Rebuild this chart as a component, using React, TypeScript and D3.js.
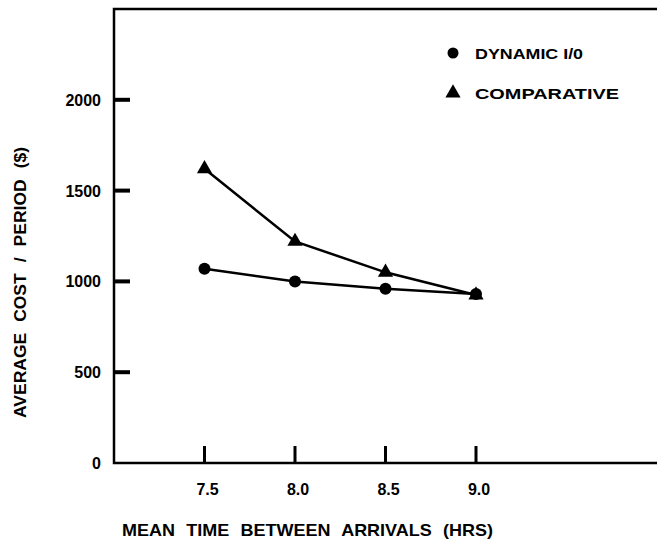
import React, { useEffect, useRef } from "react";
import * as d3 from "d3";

// values
const arrivals = [7.5, 8.0, 8.5, 9.0];
const dynamicIO = [1070, 1000, 960, 930];
const comparative = [1620, 1220, 1050, 925];
const yTicks = [0, 500, 1000, 1500, 2000];
const xTicks = [7.5, 8.0, 8.5, 9.0];
const legendLabels = ["DYNAMIC I/0", "COMPARATIVE"];

const App = () => {
  const svgRef = useRef<SVGSVGElement>(null);

  useEffect(() => {
    const w = 657;
    const h = 542;
    const left = 114;
    const top = 9;
    const bottom = 463;
    const right = 657;
    const font = "'Liberation Sans', Arial, sans-serif";

    const svg = d3.select(svgRef.current).attr("width", w).attr("height", h);
    svg.selectAll("*").remove();
    svg.append("rect").attr("width", w).attr("height", h).attr("fill", "white");

    const x = d3.scaleLinear().domain([7, 10]).range([left, right]);
    const y = d3.scaleLinear().domain([0, 2500]).range([bottom, top]);

    // y ticks point inward, x ticks point upward (drawn as small filled bars)
    svg.selectAll("rect.yt")
      .data(yTicks.filter(d => d > 0))
      .join("rect")
      .attr("class", "yt")
      .attr("x", left)
      .attr("y", d => y(d) - 2)
      .attr("width", 16)
      .attr("height", 4)
      .attr("fill", "#000");

    svg.selectAll("rect.xt")
      .data(xTicks)
      .join("rect")
      .attr("class", "xt")
      .attr("x", d => x(d) - 1.5)
      .attr("y", bottom - 17)
      .attr("width", 3)
      .attr("height", 17)
      .attr("fill", "#000");

    // frame: left axis, bottom axis, top border
    svg.append("path")
      .attr("d", `M${right},${top}H${left}V${bottom}H${right}`)
      .attr("fill", "none")
      .attr("stroke", "#000")
      .attr("stroke-width", 2.5);

    svg.selectAll("text.yl")
      .data(yTicks)
      .join("text")
      .attr("class", "yl")
      .attr("x", left - 13)
      .attr("y", d => y(d) + 6)
      .attr("text-anchor", "end")
      .attr("font-family", font)
      .attr("font-weight", "bold")
      .attr("font-size", 16)
      .text(d => String(d));

    svg.selectAll("text.xl")
      .data(xTicks)
      .join("text")
      .attr("class", "xl")
      .attr("x", d => x(d) + 3)
      .attr("y", 495)
      .attr("text-anchor", "middle")
      .attr("font-family", font)
      .attr("font-weight", "bold")
      .attr("font-size", 16)
      .text(d => d.toFixed(1));

    // axis titles
    svg.append("text")
      .attr("x", 122)
      .attr("y", 536)
      .attr("textLength", 371)
      .attr("lengthAdjust", "spacingAndGlyphs")
      .attr("font-family", font)
      .attr("font-weight", "bold")
      .attr("font-size", 17)
      .attr("word-spacing", 6)
      .text("MEAN TIME BETWEEN ARRIVALS (HRS)");

    svg.append("text")
      .attr("transform", "translate(26,418) rotate(-90)")
      .attr("textLength", 271)
      .attr("lengthAdjust", "spacingAndGlyphs")
      .attr("font-family", font)
      .attr("font-weight", "bold")
      .attr("font-size", 17)
      .attr("word-spacing", 6)
      .text("AVERAGE COST / PERIOD ($)");

    // series
    const line = d3.line<[number, number]>()
      .x(d => x(d[0]))
      .y(d => y(d[1]));

    const dyn: [number, number][] = arrivals.map((a, i) => [a, dynamicIO[i]]);
    const comp: [number, number][] = arrivals.map((a, i) => [a, comparative[i]]);

    [dyn, comp].forEach(s => {
      svg.append("path")
        .attr("d", line(s))
        .attr("fill", "none")
        .attr("stroke", "#000")
        .attr("stroke-width", 2.5);
    });

    const tri = d3.symbol().type(d3.symbolTriangle).size(100);

    svg.selectAll("circle.dot")
      .data(dyn)
      .join("circle")
      .attr("class", "dot")
      .attr("cx", d => x(d[0]))
      .attr("cy", d => y(d[1]))
      .attr("r", 6)
      .attr("fill", "#000");

    svg.selectAll("path.tri")
      .data(comp)
      .join("path")
      .attr("class", "tri")
      .attr("transform", d => `translate(${x(d[0])},${y(d[1])})`)
      .attr("d", tri())
      .attr("fill", "#000");

    // legend
    svg.append("circle").attr("cx", 453).attr("cy", 53).attr("r", 5.5).attr("fill", "#000");
    svg.append("path").attr("transform", "translate(453,93)").attr("d", tri()).attr("fill", "#000");

    svg.append("text")
      .attr("x", 475)
      .attr("y", 59)
      .attr("textLength", 108)
      .attr("lengthAdjust", "spacingAndGlyphs")
      .attr("font-family", font)
      .attr("font-weight", "bold")
      .attr("font-size", 15)
      .text(legendLabels[0]);

    svg.append("text")
      .attr("x", 475)
      .attr("y", 99)
      .attr("textLength", 144)
      .attr("lengthAdjust", "spacingAndGlyphs")
      .attr("font-family", font)
      .attr("font-weight", "bold")
      .attr("font-size", 15)
      .text(legendLabels[1]);
  }, []);

  return (
    <div style={{ position: "absolute", left: 0, top: 0 }}>
      <svg ref={svgRef} style={{ display: "block" }}></svg>
    </div>
  );
};

export default App;
